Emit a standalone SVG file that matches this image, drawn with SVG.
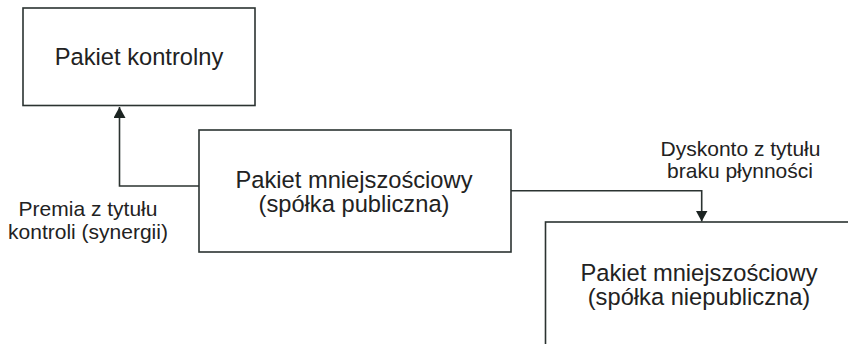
<svg xmlns="http://www.w3.org/2000/svg" width="848" height="344" viewBox="0 0 848 344">
<defs>
<style>
.box{fill:#fff;stroke:#2b3331;stroke-width:1.6}
.con{fill:none;stroke:#2b3331;stroke-width:1.6}
.t{font-family:"Liberation Sans",Arial,sans-serif;font-size:23.7px;fill:#222;text-anchor:middle}
.l{font-family:"Liberation Sans",Arial,sans-serif;font-size:21px;fill:#222;text-anchor:middle}
</style>
<marker id="arr" markerWidth="12" markerHeight="12" viewBox="0 0 12 12" refX="11" refY="6" orient="auto" markerUnits="userSpaceOnUse">
<path d="M0,0 L11,6 L0,12 Z" fill="#1c2422"/>
</marker>
</defs>
<rect width="848" height="344" fill="#fff"/>
<g id="connectors">
<polyline class="con" points="199,186 119.5,186 119.5,107" marker-end="url(#arr)"/>
<polyline class="con" points="511,190.7 701.7,190.7 701.7,221.5" marker-end="url(#arr)"/>
</g>
<g id="node-kontrolny">
<rect class="box" x="23" y="8" width="232" height="97.5"/>
<text class="t" x="139" y="64.5">Pakiet kontrolny</text>
</g>
<g id="node-publiczna">
<rect class="box" x="199" y="130" width="312" height="122"/>
<text class="t" x="354" y="188">Pakiet mniejszościowy</text>
<text class="t" x="354" y="212">(spółka publiczna)</text>
</g>
<g id="node-niepubliczna">
<rect class="box" x="545.5" y="222" width="310" height="130"/>
<text class="t" x="699" y="281">Pakiet mniejszościowy</text>
<text class="t" x="699" y="305">(spółka niepubliczna)</text>
</g>
<g id="label-premia">
<text class="l" x="88" y="216">Premia z tytułu</text>
<text class="l" x="88" y="239">kontroli (synergii)</text>
</g>
<g id="label-dyskonto">
<text class="l" x="740.5" y="155.5">Dyskonto z tytułu</text>
<text class="l" x="740" y="178">braku płynności</text>
</g>
</svg>
